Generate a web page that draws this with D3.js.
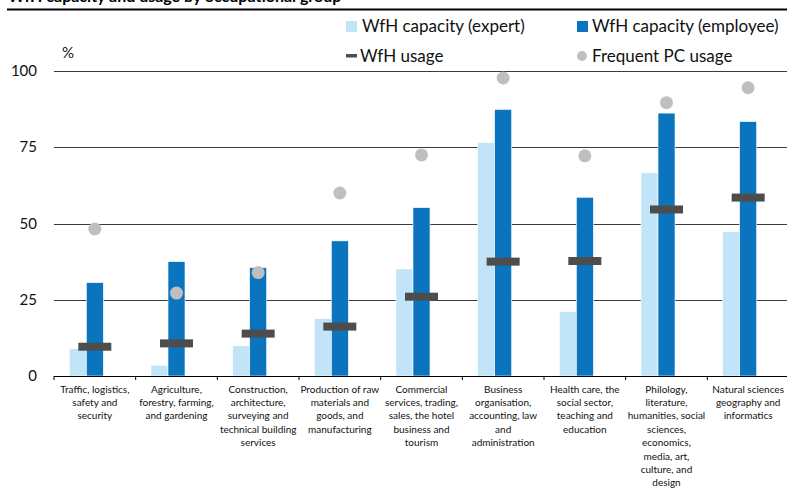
<!DOCTYPE html>
<html>
<head>
<meta charset="utf-8">
<script src="https://cdn.jsdelivr.net/npm/d3@7"></script>
<style>
  body { margin: 0; background: #fff; }
  svg { display: block; font-family: Lato, "Noto Sans", sans-serif; }
</style>
</head>
<body>
<svg id="chart" width="787" height="489"></svg>
<script>
// categories, each split into the lines shown under the axis
const categories = [
  ["Traffic, logistics,", "safety and", "security"],
  ["Agriculture,", "forestry, farming,", "and gardening"],
  ["Construction,", "architecture,", "surveying and", "technical building", "services"],
  ["Production of raw", "materials and", "goods, and", "manufacturing"],
  ["Commercial", "services, trading,", "sales, the hotel", "business and", "tourism"],
  ["Business", "organisation,", "accounting, law", "and", "administration"],
  ["Health care, the", "social sector,", "teaching and", "education"],
  ["Philology,", "literature,", "humanities, social", "sciences,", "economics,", "media, art,", "culture, and", "design"],
  ["Natural sciences", "geography and", "informatics"]
];
const capacityExpert   = [9.0, 3.5, 9.9, 18.8, 35.1, 76.5, 21.1, 66.6, 47.3];
const capacityEmployee = [30.6, 37.5, 35.5, 44.3, 55.2, 87.4, 58.6, 86.2, 83.4];
const wfhUsage         = [9.6, 10.7, 13.9, 16.2, 26.0, 37.5, 37.7, 54.6, 58.5];
const pcUsage          = [48.2, 27.2, 33.9, 60.0, 72.5, 97.7, 72.2, 89.6, 94.5];
const yTicks = [0, 25, 50, 75, 100];

const lightBlue = "#c1e4f8";
const darkBlue = "#0a74bf";
const dashGrey = "#4d4d4d";
const dotGrey = "#bfbfbf";

const svg = d3.select("#chart");
const plotLeft = 54, plotRight = 789, plotTop = 71, plotBottom = 376;

const x = d3.scaleBand().domain(d3.range(categories.length)).range([plotLeft, plotRight]);
// three slots per group: expert, employee, and an empty one
const inner = d3.scaleBand().domain([0, 1, 2]).range([0, x.bandwidth()]).paddingOuter(0.9);
const y = d3.scaleLinear().domain([0, 100]).range([plotBottom, plotTop]);

// title (cut at the top edge, as in the source) and rule
svg.append("text")
  .attr("x", 8).attr("y", 1.5)
  .attr("font-weight", "bold").attr("font-size", 16)
  .attr("fill", "#000")
  .text("WfH capacity and usage by occupational group");
svg.append("line")
  .attr("x1", 7).attr("x2", 787).attr("y1", 9.5).attr("y2", 9.5)
  .attr("stroke", "#000").attr("stroke-width", 2);

// gridlines
svg.append("g")
  .selectAll("line")
  .data(yTicks.filter((d) => d > 0))
  .join("line")
  .attr("x1", plotLeft).attr("x2", 787)
  .attr("y1", (d) => Math.round(y(d)) + 0.5).attr("y2", (d) => Math.round(y(d)) + 0.5)
  .attr("stroke", "#3c3c3c").attr("stroke-width", 1);

// y labels
svg.append("g")
  .selectAll("text")
  .data(yTicks)
  .join("text")
  .attr("x", 37).attr("y", (d) => y(d) + 5)
  .attr("text-anchor", "end").attr("font-size", 15).attr("fill", "#111")
  .text((d) => d);
svg.append("text")
  .attr("x", 62).attr("y", 58).attr("font-size", 15).attr("fill", "#111")
  .text("%");

// bars
const groups = svg.append("g")
  .selectAll("g")
  .data(categories)
  .join("g")
  .attr("transform", (d, i) => `translate(${x(i)},0)`);

groups.append("rect")
  .attr("x", inner(0)).attr("width", inner.bandwidth())
  .attr("y", (d, i) => y(capacityExpert[i]))
  .attr("height", (d, i) => y(0) - y(capacityExpert[i]))
  .attr("fill", lightBlue).attr("stroke", "#fff").attr("stroke-width", 0.6);

groups.append("rect")
  .attr("x", inner(1)).attr("width", inner.bandwidth())
  .attr("y", (d, i) => y(capacityEmployee[i]))
  .attr("height", (d, i) => y(0) - y(capacityEmployee[i]))
  .attr("fill", darkBlue).attr("stroke", "#fff").attr("stroke-width", 0.6);

// x axis
const xAxis = svg.append("g");
xAxis.append("line")
  .attr("x1", plotLeft).attr("x2", 787).attr("y1", plotBottom + 0.5).attr("y2", plotBottom + 0.5)
  .attr("stroke", "#000");
xAxis.selectAll("line.tick")
  .data(d3.range(categories.length + 1))
  .join("line")
  .attr("class", "tick")
  .attr("x1", (i) => plotLeft + i * x.bandwidth()).attr("x2", (i) => plotLeft + i * x.bandwidth())
  .attr("y1", plotBottom).attr("y2", plotBottom + 4)
  .attr("stroke", "#000");

// usage dashes and pc dots
groups.append("rect")
  .attr("x", x.bandwidth() / 2 - 16.5).attr("width", 33)
  .attr("y", (d, i) => y(wfhUsage[i]) - 4).attr("height", 8)
  .attr("fill", dashGrey);

groups.append("circle")
  .attr("cx", x.bandwidth() / 2)
  .attr("cy", (d, i) => y(pcUsage[i]))
  .attr("r", 6.5)
  .attr("fill", dotGrey);

// category labels
groups.append("text")
  .attr("font-size", 10).attr("fill", "#111").attr("text-anchor", "middle")
  .selectAll("tspan")
  .data((d) => d)
  .join("tspan")
  .attr("x", x.bandwidth() / 2)
  .attr("y", (d, j) => 392.5 + j * 13.4)
  .text((d) => d);

// legend
const legend = svg.append("g").attr("font-size", 17).attr("fill", "#111");
legend.append("rect").attr("x", 346).attr("y", 21).attr("width", 11).attr("height", 11).attr("fill", lightBlue);
legend.append("text").attr("x", 362).attr("y", 32).text("WfH capacity (expert)");
legend.append("rect").attr("x", 577).attr("y", 21).attr("width", 11).attr("height", 11).attr("fill", darkBlue);
legend.append("text").attr("x", 592).attr("y", 32).text("WfH capacity (employee)");
legend.append("rect").attr("x", 346).attr("y", 54).attr("width", 11).attr("height", 3.5).attr("fill", dashGrey);
legend.append("text").attr("x", 360).attr("y", 62).text("WfH usage");
legend.append("circle").attr("cx", 582).attr("cy", 56).attr("r", 5).attr("fill", dotGrey);
legend.append("text").attr("x", 592).attr("y", 62).text("Frequent PC usage");
</script>
</body>
</html>
